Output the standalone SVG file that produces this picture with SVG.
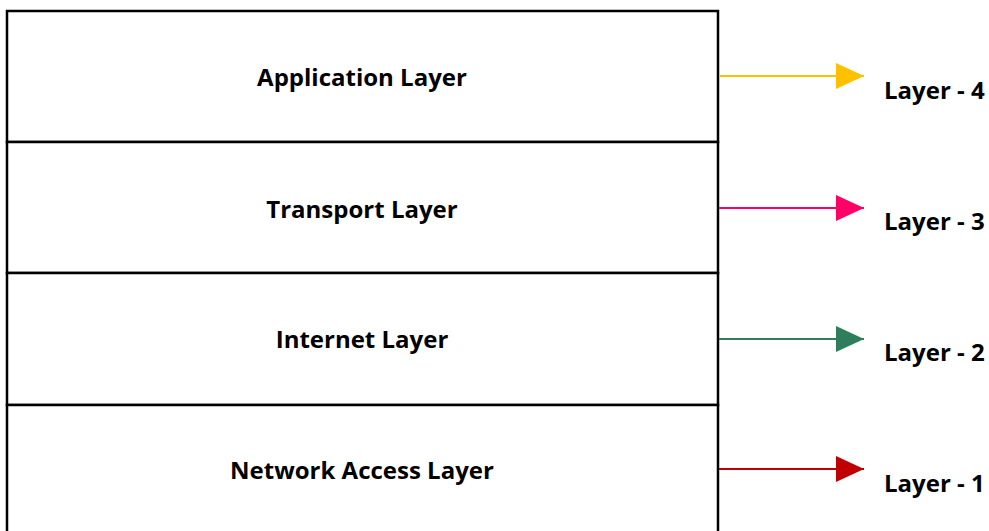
<svg xmlns="http://www.w3.org/2000/svg" width="989" height="531" viewBox="0 0 989 531">
<style>
.box{fill:#fff;stroke:#000;stroke-width:2.5}
.t{font-family:"Open Sans","Liberation Sans",sans-serif;font-weight:bold;font-size:24px;fill:#000;text-anchor:middle}
.l{font-family:"Open Sans","Liberation Sans",sans-serif;font-weight:bold;font-size:24px;fill:#000}
.c{stroke-width:2;fill:none}
</style>
<defs>
<marker id="ay" viewBox="0 0 10 10" refX="10" refY="5" markerWidth="28" markerHeight="26" markerUnits="userSpaceOnUse" orient="auto" preserveAspectRatio="none"><path d="M0,0L10,5L0,10Z" fill="#FFC000"/></marker>
<marker id="ap" viewBox="0 0 10 10" refX="10" refY="5" markerWidth="28" markerHeight="26" markerUnits="userSpaceOnUse" orient="auto" preserveAspectRatio="none"><path d="M0,0L10,5L0,10Z" fill="#FF0066"/></marker>
<marker id="ag" viewBox="0 0 10 10" refX="10" refY="5" markerWidth="28" markerHeight="26" markerUnits="userSpaceOnUse" orient="auto" preserveAspectRatio="none"><path d="M0,0L10,5L0,10Z" fill="#2E7D5B"/></marker>
<marker id="ar" viewBox="0 0 10 10" refX="10" refY="5" markerWidth="28" markerHeight="26" markerUnits="userSpaceOnUse" orient="auto" preserveAspectRatio="none"><path d="M0,0L10,5L0,10Z" fill="#C00000"/></marker>
</defs>
<g id="app"><rect class="box" x="7" y="11" width="711" height="131"/><text class="t" x="362" y="86">Application Layer</text></g>
<g id="transport"><rect class="box" x="7" y="142" width="711" height="131"/><text class="t" x="362" y="218">Transport Layer</text></g>
<g id="internet"><rect class="box" x="7" y="273" width="711" height="132"/><text class="t" x="362" y="348">Internet Layer</text></g>
<g id="netaccess"><rect class="box" x="7" y="405" width="711" height="140"/><text class="t" x="362" y="479">Network Access Layer</text></g>
<g id="connectors">
<line class="c" x1="719" y1="76" x2="864" y2="76" stroke="#FFC000" marker-end="url(#ay)"/>
<line class="c" x1="719" y1="208" x2="864" y2="208" stroke="#FF0066" marker-end="url(#ap)"/>
<line class="c" x1="719" y1="339" x2="864" y2="339" stroke="#2E7D5B" marker-end="url(#ag)"/>
<line class="c" x1="719" y1="469" x2="864" y2="469" stroke="#C00000" marker-end="url(#ar)"/>
</g>
<g id="labels">
<text class="l" x="884" y="99">Layer - 4</text>
<text class="l" x="884" y="230">Layer - 3</text>
<text class="l" x="884" y="361">Layer - 2</text>
<text class="l" x="884" y="492">Layer - 1</text>
</g>
</svg>
